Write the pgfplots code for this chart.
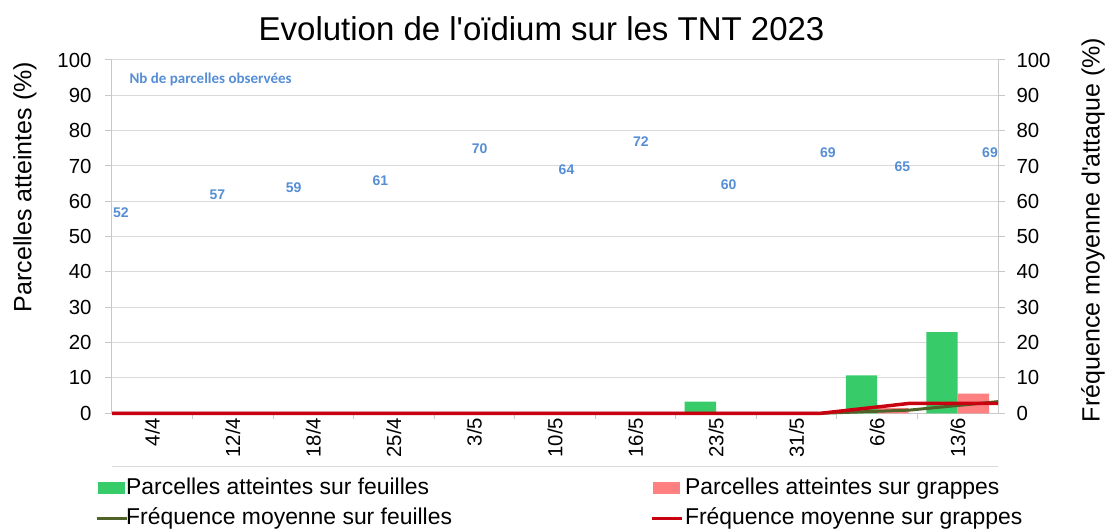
\documentclass[border=0pt]{standalone}
\usepackage{pgfplots}
\usepackage{pgfplotstable}
\pgfplotsset{compat=1.18}
\usepackage{fontspec}
\setmainfont{Liberation Sans}
\newfontfamily\carlito{Carlito}
\definecolor{barG}{RGB}{55,203,105}
\definecolor{barR}{RGB}{255,128,128}
\definecolor{lineG}{RGB}{79,98,40}
\definecolor{lineR}{RGB}{200,0,16}
\definecolor{lblue}{RGB}{85,142,213}
\definecolor{gridc}{RGB}{217,217,217}
\definecolor{axc}{RGB}{200,200,200}
\newcommand\tickfont{\fontsize{20.4}{24}\selectfont}

\pgfplotstableread{
x feuilles grappes
0 0 0
1 0 0
2 0 0
3 0 0
4 0 0
5 0 0
6 0 0
7 3.3 0
8 0 0
9 10.7 1.5
10 23.0 5.6
}\bars

\pgfplotstableread{
x feuilles grappes
0 0 0
1 0 0
2 0 0
3 0 0
4 0 0
5 0 0
6 0 0
7 0 0
8 0 0
9 0.9 2.8
10 3.3 2.8
}\freq

\pgfplotstableread{
x n
0.10 52
1.19 57
2.05 59
3.03 61
4.15 70
5.13 64
5.97 72
6.96 60
8.08 69
8.92 65
9.91 69
}\obs

\begin{document}
\begin{tikzpicture}
\useasboundingbox (0,0) rectangle (1106pt,529pt);
\begin{axis}[
  at={(112pt,115.7pt)}, anchor=south west,
  scale only axis, width=886pt, height=353.3pt,
  xmin=-0.5, xmax=10.5, ymin=0, ymax=100,
  axis y line*=left, axis x line*=bottom,
  axis line style={axc, line width=1pt},
  clip=false,
  ytick={0,10,...,100},
  ymajorgrids, grid style={gridc, line width=1pt},
  tick align=outside, major tick length=7pt, minor tick length=6pt,
  y tick style={axc, line width=1pt},
  major x tick style={draw=none},
  minor x tick style={axc, line width=1pt},
  xtick={0,...,10},
  minor xtick={0.5,1.5,...,9.5},
  xticklabels={4/4,12/4,18/4,25/4,3/5,10/5,16/5,23/5,31/5,6/6,13/6},
  x tick label style={rotate=90, anchor=east, font=\tickfont, xshift=6pt},
  y tick label style={font=\tickfont, xshift=-10pt},
  /pgf/number format/assume math mode=true,
  ylabel={Parcelles atteintes (\%)},
  ylabel style={at={(axis description cs:-0.0982,0.6405)}, anchor=center, font=\fontsize{25}{30}\selectfont},
  title={Evolution de l\textquotesingle oïdium sur les TNT 2023},
  title style={at={(axis description cs:0.4848,1.0396)}, anchor=base, font=\fontsize{33}{40}\selectfont},
]
\addplot[ybar, bar width=0.39, bar shift=-0.195, fill=barG, draw=none] table[x=x,y=feuilles]{\bars};
\addplot[ybar, bar width=0.39, bar shift=0.195, fill=barR, draw=none] table[x=x,y=grappes]{\bars};
\node[anchor=west, font=\carlito\bfseries\fontsize{15}{18}\selectfont, text=lblue] at (rel axis cs:0.0158,0.946) {Nb de parcelles observées};
\draw[gridc, line width=1pt] (rel axis cs:0,-0.1506) -- (rel axis cs:1,-0.1506);
\end{axis}
\begin{axis}[
  at={(112pt,115.7pt)}, anchor=south west,
  scale only axis, width=886pt, height=353.3pt,
  xmin=0, xmax=10, ymin=0, ymax=100,
  axis y line*=right, hide x axis,
  axis line style={axc, line width=1pt},
  clip=false,
  ytick={0,10,...,100},
  tick align=outside, major tick length=7pt,
  y tick style={axc, line width=1pt},
  y tick label style={font=\tickfont, xshift=8pt},
  /pgf/number format/assume math mode=true,
  ylabel={Fréquence moyenne d\textquotesingle attaque (\%)},
  ylabel style={at={(axis description cs:1.1072,0.5188)}, anchor=center, rotate=0, font=\fontsize{25}{30}\selectfont},
  legend columns=2,
  legend cell align=left,
  legend style={at={(axis description cs:-0.0192,-0.1803)}, anchor=north west, draw=none, fill=none, inner sep=0pt,
    font=\fontsize{22.9}{27}\selectfont,
    nodes={inner sep=0pt, text height=17pt, text depth=5pt},
    /tikz/every odd column/.append style={column sep=-2pt},
    /tikz/every even column/.append style={column sep=198pt},
    row sep=8.5pt},
]
\addlegendimage{legend image code/.code={\fill[barG] (2pt,-5.5pt) rectangle (28pt,5.5pt);}}
\addlegendentry{Parcelles atteintes sur feuilles}
\addlegendimage{legend image code/.code={\fill[barR] (2pt,-5.5pt) rectangle (28pt,5.5pt);}}
\addlegendentry{\hspace{4pt}Parcelles atteintes sur grappes}
\addlegendimage{legend image code/.code={\draw[lineG, line width=3pt] (0pt,0pt) -- (30pt,0pt);}}
\addlegendentry{Fréquence moyenne sur feuilles}
\addlegendimage{legend image code/.code={\draw[lineR, line width=3pt] (0pt,0pt) -- (30pt,0pt);}}
\addlegendentry{\hspace{4pt}Fréquence moyenne sur grappes}
\addplot[lineG, line width=3pt, no marks, forget plot] table[x=x,y=feuilles]{\freq};
\addplot[lineR, line width=3.5pt, no marks, forget plot] table[x=x,y=grappes]{\freq};
\addplot[draw=none, no marks, forget plot, nodes near coords, point meta=explicit symbolic,
  every node near coord/.append style={anchor=center, yshift=17pt, font=\bfseries\fontsize{14}{16}\selectfont, text=lblue}]
  table[x=x,y=n,meta=n]{\obs};
\end{axis}
\end{tikzpicture}
\end{document}
